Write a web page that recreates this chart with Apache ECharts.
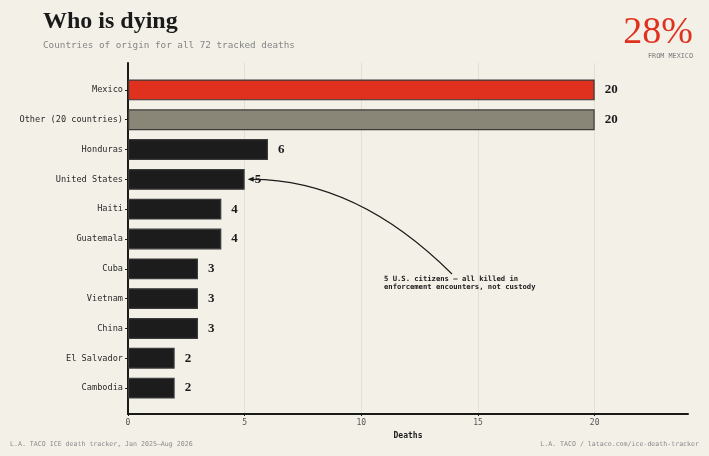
<!DOCTYPE html>
<html>
<head>
<meta charset="utf-8">
<script src="https://cdn.jsdelivr.net/npm/echarts@6/dist/echarts.min.js"></script>
<style>
  html, body { margin: 0; padding: 0; background: #f3f0e8; }
  #chart { width: 709px; height: 456px; }
</style>
</head>
<body>
<div id="chart"></div>
<script>
// Deaths by country of origin
const countries = ["Mexico", "Other (20 countries)", "Honduras", "United States", "Haiti",
  "Guatemala", "Cuba", "Vietnam", "China", "El Salvador", "Cambodia"];
const deaths = [20, 20, 6, 5, 4, 4, 3, 3, 3, 2, 2];
const xTicks = [0, 5, 10, 15, 20];

const MONO = "'DejaVu Sans Mono', 'Liberation Mono', monospace";
const SERIF = "'Liberation Serif', 'DejaVu Serif', serif";

function barColor(name) {
  if (name === "Mexico") return "#e0301e";
  if (name.indexOf("Other") === 0) return "#8a8677";
  return "#1c1c1c";
}

const chart = echarts.init(document.getElementById("chart"));

const option = {
  backgroundColor: "#f3f0e8",
  animation: false,
  title: {
    text: "Who is dying",
    subtext: "Countries of origin for all 72 tracked deaths",
    left: 38,
    top: 5,
    itemGap: 7,
    textStyle: { fontFamily: SERIF, fontWeight: "bold", fontSize: 24, color: "#1a1a1a" },
    subtextStyle: { fontFamily: MONO, fontSize: 9.3, color: "#858585" },
  },
  grid: [
    { left: 128, right: 21, top: 75, bottom: 53 },
    { left: 128, right: 21, top: 63, bottom: 42 },
  ],
  xAxis: [
    {
      gridIndex: 0, type: "value", min: 0, max: 24, interval: 5,
      show: false,
    },
    {
      gridIndex: 1, type: "value", min: 0, max: 24, interval: 5,
      name: "Deaths", nameLocation: "middle", nameGap: 12,
      nameTextStyle: { fontFamily: MONO, fontWeight: "bold", fontSize: 8, color: "#1a1a1a" },
      axisLine: { show: true, lineStyle: { color: "#1a1a1a", width: 2 } },
      axisTick: { show: true, length: 2, lineStyle: { color: "#1a1a1a" } },
      axisLabel: {
        fontFamily: MONO, fontSize: 8, color: "#555", margin: 5,
        showMaxLabel: false,
        formatter: v => (xTicks.indexOf(v) >= 0 ? String(v) : ""),
      },
      splitLine: { show: true, showMaxLine: false, lineStyle: { color: "#e3dfd2", width: 1 } },
    },
  ],
  yAxis: [
    {
      gridIndex: 0, type: "category", data: countries, inverse: true,
      axisLine: { show: false },
      axisTick: { show: true, alignWithLabel: true, length: 3, lineStyle: { color: "#1a1a1a" } },
      axisLabel: { fontFamily: MONO, fontSize: 8.6, color: "#2a2a2a", margin: 5 },
    },
    {
      gridIndex: 1, type: "value", min: 0, max: 1,
      axisLine: { show: true, lineStyle: { color: "#1a1a1a", width: 2 } },
      axisTick: { show: false },
      axisLabel: { show: false },
      splitLine: { show: false },
    },
  ],
  series: [
    {
      type: "bar",
      xAxisIndex: 0,
      yAxisIndex: 0,
      barWidth: "70%",
      data: deaths.map((v, i) => ({
        value: v,
        itemStyle: { color: barColor(countries[i]) },
      })),
      itemStyle: { borderColor: "#3a3a3a", borderWidth: 1.2 },
      label: {
        show: true,
        position: "right",
        distance: 10,
        fontFamily: SERIF,
        fontWeight: "bold",
        fontSize: 13,
        color: "#1a1a1a",
      },
    },
  ],
};

chart.setOption(option);

// Headline stat, footer and the U.S. citizens annotation
const usEnd = chart.convertToPixel({ xAxisIndex: 0, yAxisIndex: 0 }, [5, "United States"]);
const tip = [usEnd[0] + 3, usEnd[1]];
const textAt = [384, 275];
const curveStart = [452, 274];

chart.setOption({
  graphic: [
    {
      type: "text", right: 16, top: 14,
      style: { text: "28%", fontFamily: SERIF, fontSize: 38, fill: "#e0301e" },
    },
    {
      type: "text", right: 16, top: 53,
      style: { text: "FROM MEXICO", fontFamily: MONO, fontSize: 6.8, fill: "#7a7a7a" },
    },
    {
      type: "text", left: 10, top: 441,
      style: { text: "L.A. TACO ICE death tracker, Jan 2025\u2013Aug 2026", fontFamily: MONO, fontSize: 6.6, fill: "#8a8a8a" },
    },
    {
      type: "text", right: 10, top: 441,
      style: { text: "L.A. TACO / lataco.com/ice-death-tracker", fontFamily: MONO, fontSize: 6.6, fill: "#8a8a8a" },
    },
    {
      type: "bezierCurve",
      shape: {
        x1: curveStart[0], y1: curveStart[1],
        x2: tip[0] + 4, y2: tip[1],
        cpx1: 357, cpy1: tip[1],
      },
      style: { stroke: "#1a1a1a", lineWidth: 1.1, fill: null },
    },
    {
      type: "polygon",
      shape: { points: [[tip[0], tip[1]], [tip[0] + 6, tip[1] - 2.5], [tip[0] + 6, tip[1] + 2.5]] },
      style: { fill: "#1a1a1a" },
    },
    {
      type: "text", left: textAt[0], top: textAt[1],
      style: {
        text: "5 U.S. citizens \u2014 all killed in\nenforcement encounters, not custody",
        fontFamily: MONO, fontWeight: "bold", fontSize: 7.2, lineHeight: 8, fill: "#1a1a1a",
      },
    },
  ],
});
</script>
</body>
</html>
